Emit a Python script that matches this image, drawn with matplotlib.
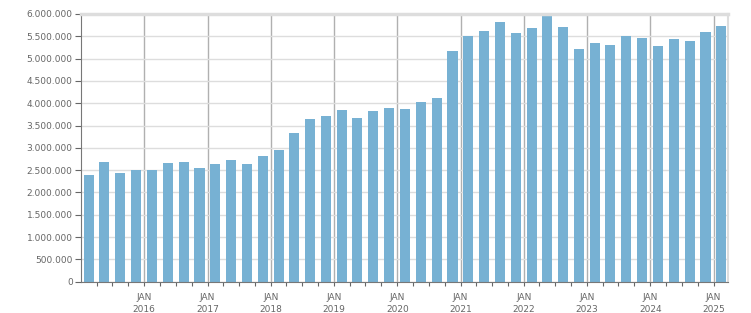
import datetime as dt
import matplotlib
matplotlib.use('Agg')
import matplotlib.pyplot as plt
import matplotlib.dates as mdates
from matplotlib.ticker import FuncFormatter, MultipleLocator, FixedLocator

# quarterly values, Q1 2015 .. Q1 2025
years = [2015 + i // 4 for i in range(41)]
quarters = [i % 4 for i in range(41)]
values = [2390000, 2680000, 2435000, 2500000,
          2500000, 2660000, 2680000, 2550000,
          2640000, 2725000, 2640000, 2815000,
          2950000, 3335000, 3645000, 3715000,
          3850000, 3670000, 3825000, 3895000,
          3870000, 4030000, 4115000, 5170000,
          5505000, 5620000, 5820000, 5575000,
          5685000, 6000000, 5710000, 5215000,
          5350000, 5305000, 5505000, 5460000,
          5285000, 5440000, 5395000, 5600000,
          5730000]
label_years = list(range(2016, 2026))

# bars sit in the middle of each quarter
dates = [dt.date(y, 3 * q + 2, 15) for y, q in zip(years, quarters)]

txt = '#666666'
fig = plt.figure(figsize=(7.51, 3.13), dpi=100)
ax = fig.add_axes([0.1079, 0.1, 0.9694 - 0.1079, 0.9553 - 0.1])

ax.bar(dates, values, width=58, color='#77b1d3', zorder=2)

ax.set_xlim(dt.date(2015, 1, 1), dt.date(2025, 3, 25))
ax.set_ylim(0, 6000000)

ax.yaxis.set_major_locator(MultipleLocator(500000))
ax.yaxis.set_major_formatter(FuncFormatter(lambda v, p: '{:,.0f}'.format(v).replace(',', '.')))
ax.grid(axis='y', color='#dddddd', lw=1, zorder=0)

ax.xaxis.set_major_locator(FixedLocator([mdates.date2num(dt.date(y, 1, 1)) for y in label_years]))
ax.xaxis.set_minor_locator(mdates.MonthLocator(bymonth=[4, 7, 10]))
ax.xaxis.set_major_formatter(FuncFormatter(lambda v, p: 'JAN\n' + str(mdates.num2date(v).year)))
ax.grid(axis='x', which='major', color='#b0b0b0', lw=1, zorder=1)

ax.tick_params(axis='y', labelsize=6.5, colors=txt, length=4, width=0.8, pad=2)
ax.tick_params(axis='x', which='major', labelsize=6.5, colors=txt, length=3, width=0.8, pad=5)
ax.tick_params(axis='x', which='minor', colors=txt, length=3, width=0.8)
for lab in ax.get_xticklabels():
    lab.set_linespacing(1.5)

ax.spines['left'].set_color('#777777')
ax.spines['bottom'].set_color('#777777')
ax.spines['top'].set_color('#dddddd')
ax.spines['top'].set_linewidth(2.5)
ax.spines['right'].set_color('#dddddd')
ax.spines['right'].set_linewidth(1.5)

fig.savefig('out.png', dpi=100)
